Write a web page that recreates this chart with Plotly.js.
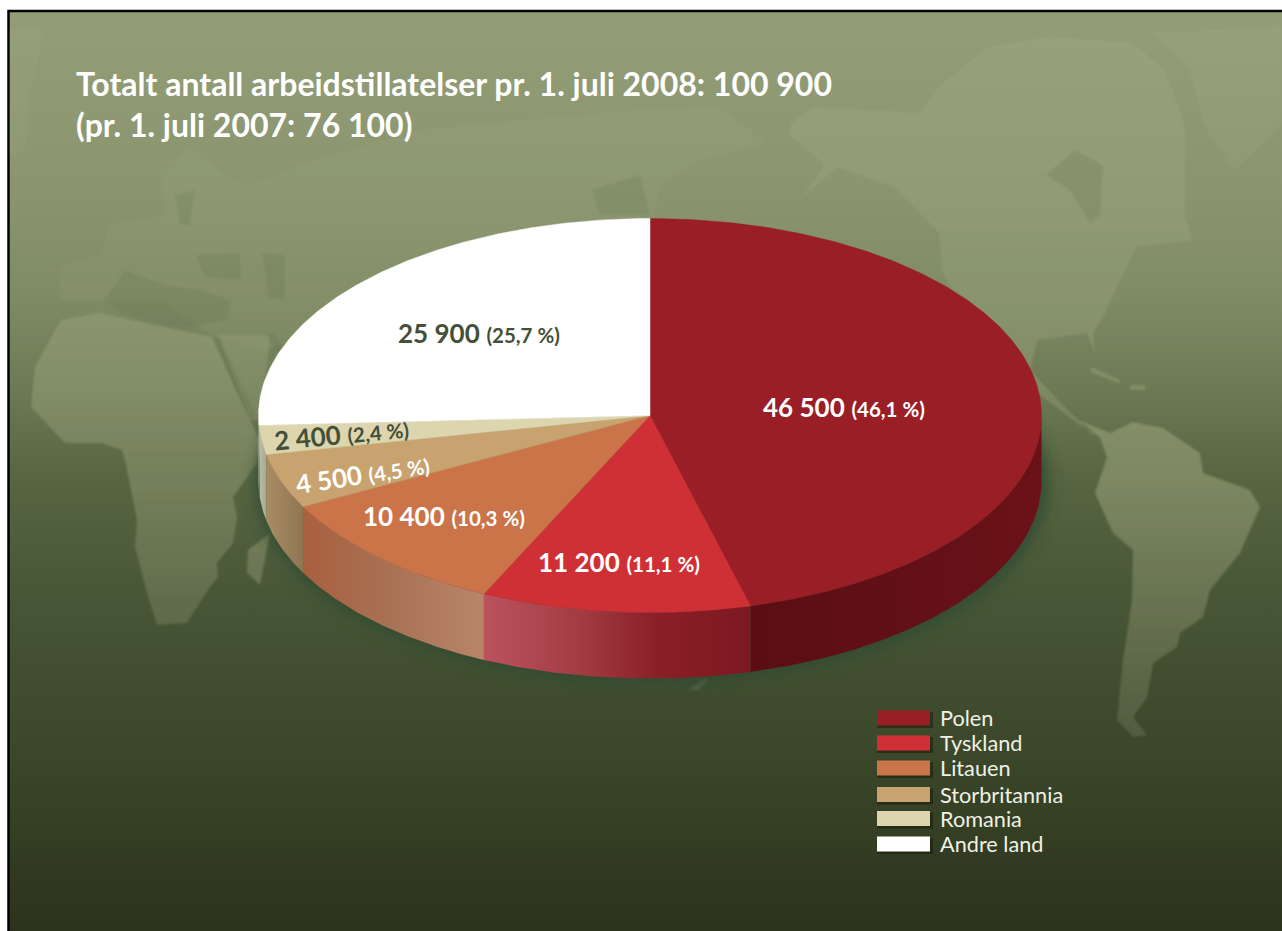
<!DOCTYPE html>
<html><head><meta charset="utf-8">
<script src="https://cdn.plot.ly/plotly-3.0.1.min.js"></script>
<style>html,body{margin:0;padding:0;background:#fff}#c{width:1282px;height:931px}</style>
</head><body><div id="c"></div>
<script>
// ---- data ----
const categories = ["Polen","Tyskland","Litauen","Storbritannia","Romania","Andre land"];
const values = [46500,11200,10400,4500,2400,25900];
const percents = ["46,1","11,1","10,3","4,5","2,4","25,7"];
const titleLines = ["Totalt antall arbeidstillatelser pr. 1. juli 2008: 100 900","(pr. 1. juli 2007: 76 100)"];

// ---- styles ----
const topColors = ["#991e26","#cf3035","#cb7349","#c8a26f","#dcd5ad","#ffffff"];
const wallColors = [
  [[0,"#5a0e14"],[1,"#6a1218"]],
  [[0,"#bb525c"],[0.35,"#a33d44"],[0.65,"#8a1f27"],[1,"#7d1820"]],
  [[0,"#a9603f"],[0.5,"#a87255"],[1,"#b98569"]],
  [[0,"#a88c64"],[1,"#8f7653"]],
  [[0,"#b9bda8"],[1,"#a9a98c"]],
  [[0,"#b9bdaa"],[1,"#b9bdaa"]]
];
const labelColors = ["#fff","#fff","#fff","#fff","#444f3a","#444f3a"];
const labelPos = [[844,407,0],[619,562,0],[444,516,0],[362,474,-9],[341,434,-5.5],[479,333,0]];
const FONT = "Lato, 'Open Sans', sans-serif";
const cx=650, cy=415.5, rx=391.5, ry=197, depth=66, skew=0.8*Math.PI/180;

// ---- geometry from values ----
const total = values.reduce((a,b)=>a+b,0);
const px = a => cx + rx*Math.sin(a);
const py = (a,d=0) => cy - ry*Math.cos(a) + d;
const warp = a => a - skew*Math.pow(Math.sin(a/2),2); // the drawing's slight perspective
let acc = 0;
const angles = values.map(v=>{const s=warp(acc/total*2*Math.PI); acc+=v; return [s,warp(acc/total*2*Math.PI)];});
const sample = (a,b)=>{const n=Math.max(2,Math.ceil((b-a)/0.01));const o=[];for(let i=0;i<=n;i++)o.push(a+(b-a)*i/n);return o;};

const traces = [];
// side walls
angles.forEach(([s,e],i)=>{
  const a=Math.max(s,Math.PI/2), b=Math.min(e,3*Math.PI/2);
  if(b<=a) return;
  const arc=sample(a,b), rev=[...arc].reverse();
  const xs=arc.map(px).concat(rev.map(px));
  const ys=arc.map(t=>py(t)).concat(rev.map(t=>py(t,depth)));
  traces.push({type:"scatter",mode:"lines",x:xs,y:ys,fill:"toself",line:{width:0},hoverinfo:"skip",showlegend:false,
    fillgradient:{type:"horizontal",colorscale:wallColors[i],start:Math.min(...xs),stop:Math.max(...xs)}});
});
// top faces
angles.forEach(([s,e],i)=>{
  const arc=sample(s,e);
  traces.push({type:"scatter",mode:"lines",name:categories[i],x:[cx,...arc.map(px),cx],y:[cy,...arc.map(t=>py(t)),cy],
    fill:"toself",fillcolor:topColors[i],line:{width:0.5,color:topColors[i]},showlegend:false,
    text:categories[i]+": "+values[i],hoverinfo:"text"});
});

// ---- background (decorative world map) ----
const land = [
 ["61,300 61,265 100,255 110,225 165,215 160,170 190,148 225,175 250,185 300,165 420,130 640,110 720,107 767,143 700,160 660,185 650,230 500,300 330,330 265,350 212,335 160,300 100,300",0.28],
 ["35,367 61,320 100,313 163,327 212,337 250,420 262,445 257,463 233,497 237,517 233,543 217,563 218,577 210,587 187,623 157,625 147,593 135,547 137,520 125,460 122,450 102,443 65,443 31,407",0.75],
 ["218,335 270,335 262,420 250,420",0.6],
 ["248,550 270,533 260,585 247,573",0.9],
 ["792,123 812,107 919,113 943,83 988,47 1050,37 1132,43 1165,70 1185,127 1185,217 1193,240 1136,247 1103,317 1093,333 1095,353 1087,333 1037,340 1030,370 1058,400 1091,433 1107,440 1080,425 1040,395 960,300 943,273 939,233 894,187 837,167 805,195 800,200 825,165 788,133",0.6],
 ["1078,420 1110,433 1133,422 1163,428 1200,453 1203,473 1250,490 1260,507 1240,553 1210,590 1203,617 1180,633 1177,647 1153,663 1147,697 1133,717 1147,735 1133,737 1117,720 1123,660 1132,600 1133,550 1113,533 1095,493 1107,457 1100,437",0.95],
 ["1152,33 1282,27 1282,123 1234,170 1205,127 1189,67",0.45],
 ["10,30 45,28 30,90 25,150 10,155",0.3],
 ["1091,367 1120,380 1120,384 1091,372",0.7],["1130,385 1145,385 1145,390 1130,390",0.7],
 ["688,690 705,678 709,680 698,690",0.8]
];
const seas = [
 "104,300 125,270 165,285 200,290 230,300 228,320 180,328 150,322 120,312",
 "196,255 240,253 241,280 205,278",
 "262,253 285,255 285,300 268,298",
 "212,337 220,337 257,418 250,420",
 "265,333 275,333 283,350 275,350",
 "175,195 195,190 190,225 180,225",
 "1046,175 1075,150 1103,165 1100,215 1090,223 1070,190",
 "592,190 640,175 650,215 600,215"
];
const svg = `<svg xmlns="http://www.w3.org/2000/svg" width="1282" height="931" viewBox="0 0 1282 931">
<defs>
<linearGradient id="bg" gradientUnits="userSpaceOnUse" x1="0" y1="11" x2="0" y2="931">
<stop offset="0" stop-color="#939e77"/><stop offset="0.2" stop-color="#8a956f"/><stop offset="0.31" stop-color="#7f8b65"/>
<stop offset="0.42" stop-color="#6a7853"/><stop offset="0.5" stop-color="#586643"/><stop offset="0.64" stop-color="#475636"/>
<stop offset="0.81" stop-color="#3a4729"/><stop offset="1" stop-color="#2c331c"/></linearGradient>
<linearGradient id="ld" gradientUnits="userSpaceOnUse" x1="0" y1="11" x2="0" y2="740">
<stop offset="0" stop-color="#9ca67f"/><stop offset="0.45" stop-color="#8f9a72"/><stop offset="0.65" stop-color="#7e8963"/><stop offset="1" stop-color="#525d40"/></linearGradient>
<filter id="b" x="-20%" y="-20%" width="140%" height="140%"><feGaussianBlur stdDeviation="7"/></filter>
<filter id="s" x="-10%" y="-10%" width="120%" height="120%"><feGaussianBlur stdDeviation="1.2"/></filter>
</defs>
<rect width="1282" height="931" fill="#fff"/>
<rect x="8.5" y="11" width="1400" height="1000" fill="url(#bg)" stroke="#000" stroke-width="2.5"/>
<g filter="url(#s)">
${land.map(p=>`<polygon points="${p[0]}" fill="url(#ld)" fill-opacity="${p[1]}"/>`).join("")}
${seas.map(p=>`<polygon points="${p}" fill="#5a6945" fill-opacity="0.18"/>`).join("")}
</g>
<ellipse cx="652" cy="484" rx="398" ry="200" fill="#2f4a30" fill-opacity="0.75" filter="url(#b)"/>
</svg>`;

// ---- labels ----
const fmt = v => String(v).replace(/\B(?=(\d{3})+$)/g," ");
const annotations = [];
titleLines.forEach((t,i)=>annotations.push({xref:"x",yref:"y",x:74,y:83+i*41,text:"<b>"+t+"</b>",showarrow:false,xanchor:"left",yanchor:"middle",font:{family:FONT,size:32,color:"#fff"}}));
values.forEach((v,i)=>annotations.push({xref:"x",yref:"y",x:labelPos[i][0],y:labelPos[i][1],textangle:labelPos[i][2],showarrow:false,
  text:`<b>${fmt(v)}</b> <span style="font-size:20.5px"><b>(${percents[i]} %)</b></span>`,
  font:{family:FONT,size:26,color:labelColors[i]}}));
// legend
const rowY=[718,743,768,794.5,818.5,844];
const shapes=[];
categories.forEach((c,i)=>{
  shapes.push({type:"rect",xref:"x",yref:"y",x0:877,x1:933,y0:rowY[i]-6,y1:rowY[i]+10,fillcolor:"rgba(20,20,5,0.45)",line:{width:0},layer:"above"});
  shapes.push({type:"rect",xref:"x",yref:"y",x0:877,x1:930,y0:rowY[i]-7.5,y1:rowY[i]+7.5,fillcolor:topColors[i],line:{width:0},layer:"above"});
  annotations.push({xref:"x",yref:"y",x:938,y:rowY[i],text:c,showarrow:false,xanchor:"left",yanchor:"middle",font:{family:FONT,size:21.7,color:"#f0f1e6"}});
});

Plotly.newPlot("c",traces,{
  width:1282,height:931,margin:{l:0,r:0,t:0,b:0},
  paper_bgcolor:"rgba(0,0,0,0)",plot_bgcolor:"rgba(0,0,0,0)",showlegend:false,
  xaxis:{range:[0,1282],visible:false,fixedrange:true},
  yaxis:{range:[931,0],visible:false,fixedrange:true},
  images:[{source:"data:image/svg+xml;charset=utf-8,"+encodeURIComponent(svg),xref:"paper",yref:"paper",x:0,y:1,sizex:1,sizey:1,sizing:"stretch",xanchor:"left",yanchor:"top",layer:"below"}],
  annotations,shapes
},{displayModeBar:false,staticPlot:true});
</script></body></html>
